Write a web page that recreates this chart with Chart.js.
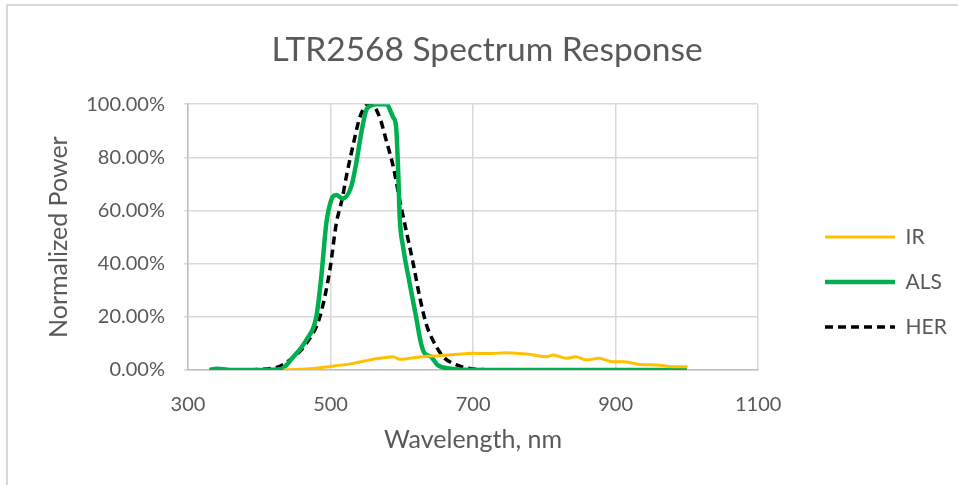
<!DOCTYPE html>
<html>
<head>
<meta charset="utf-8">
<title>LTR2568 Spectrum Response</title>
<script src="https://cdn.jsdelivr.net/npm/chart.js@4.4.1/dist/chart.umd.min.js"></script>
<style>
    html, body { margin: 0; padding: 0; background: #ffffff; }
    .wrap { position: relative; width: 958px; height: 485px; overflow: hidden; }
    .frame-top { position: absolute; left: 6px; top: 4px; right: 0; height: 2px; background: #d9d9d9; }
    .frame-left { position: absolute; left: 6px; top: 4px; bottom: 0; width: 2px; background: #d9d9d9; }
    canvas { position: absolute; left: 0; top: 0; }
</style>
</head>
<body>
<div class="wrap">
    <div class="frame-top"></div>
    <div class="frame-left"></div>
    <canvas id="spectrum" width="958" height="485"></canvas>
</div>
<script>
// wavelength (nm) / normalized power (%)
const irX  = [434, 476, 504, 532, 555, 574, 588, 597, 616, 630, 653, 677, 700, 725, 747, 779, 803, 812, 831, 844, 859, 877, 896, 910, 934, 957, 980, 1001];
const irY  = [0, 0.6, 1.5, 2.5, 3.8, 4.6, 5, 4, 4.6, 5, 5.4, 5.9, 6.3, 6.2, 6.5, 5.9, 5, 5.6, 4.4, 5, 3.8, 4.4, 3.1, 3.1, 2.1, 1.9, 1.25, 1.25];

const alsX = [330, 340, 360, 400, 430, 448, 466, 480, 487, 494, 501, 508, 517, 529, 536, 543, 550, 557, 565, 578, 588, 592, 595, 597, 602, 611, 620, 627, 632, 641, 650, 666, 690, 750, 850, 1000];
const alsY = [0, 0.5, 0, 0, 0.3, 5, 11.3, 20, 35, 55, 64, 65.8, 64.5, 69, 77.7, 89, 97.7, 99.5, 100, 100, 95, 91.5, 74, 57.6, 46, 32.6, 20, 10, 6.3, 5, 1.9, 0.6, 0.1, 0, 0, 0];

const herX = [387, 424, 443, 466, 485, 499, 508, 516, 523, 532, 541, 550, 557, 569, 578, 588, 597, 606, 616, 625, 634, 644, 658, 677, 695, 720, 755];
const herY = [0, 1, 3.8, 10, 20, 37.6, 55, 64, 73.9, 85, 95, 99.6, 100, 95, 86.5, 76.5, 64, 52.6, 40, 27.6, 17.5, 11, 5, 1.9, 0.6, 0.1, 0];

const seriesNames = ['IR', 'ALS', 'HER'];
const xTicks = [300, 500, 700, 900, 1100];
const yTicks = [0, 20, 40, 60, 80, 100];

const pts = (xs, ys) => xs.map((x, i) => ({ x: x, y: ys[i] }));

const textColor = '#595959';
const gridColor = '#d9d9d9';
Chart.defaults.font.family = 'Lato, "Open Sans", sans-serif';
Chart.defaults.color = textColor;

// legend to the right of the plot and title nudged right, like the Excel original
const boxPlacer = {
    id: 'boxPlacer',
    afterLayout(chart) {
        const lg = chart.legend;
        const w = lg.width, h = lg.height;
        lg.left = 801;
        lg.right = lg.left + w;
        lg.top = 202.5;
        lg.bottom = lg.top + h;

        const tb = chart.titleBlock;
        tb.left += 10;
        tb.right += 10;
    }
};

new Chart(document.getElementById('spectrum').getContext('2d'), {
    type: 'scatter',
    data: {
        datasets: [
            {
                label: seriesNames[0],
                data: pts(irX, irY),
                showLine: true,
                borderColor: '#ffc000',
                backgroundColor: '#ffc000',
                borderWidth: 3,
                pointRadius: 0,
                pointStyle: 'line',
                cubicInterpolationMode: 'monotone'
            },
            {
                label: seriesNames[1],
                data: pts(alsX, alsY),
                showLine: true,
                borderColor: '#00b050',
                backgroundColor: '#00b050',
                borderWidth: 4.5,
                pointRadius: 0,
                pointStyle: 'line',
                cubicInterpolationMode: 'monotone'
            },
            {
                label: seriesNames[2],
                data: pts(herX, herY),
                showLine: true,
                borderColor: '#000000',
                backgroundColor: '#000000',
                borderWidth: 3.5,
                borderDash: [8, 5],
                pointRadius: 0,
                pointStyle: 'line',
                cubicInterpolationMode: 'monotone'
            }
        ]
    },
    plugins: [boxPlacer],
    options: {
        responsive: false,
        animation: false,
        devicePixelRatio: 1,
        layout: {
            padding: { left: 40, right: 44, top: 0, bottom: 26 }
        },
        plugins: {
            title: {
                display: true,
                text: 'LTR2568 Spectrum Response',
                color: textColor,
                font: { size: 33.5, weight: 'normal' },
                padding: { top: 30, bottom: 34 }
            },
            legend: {
                position: 'right',
                align: 'start',
                labels: {
                    usePointStyle: true,
                    pointStyleWidth: 70,
                    boxHeight: 21,
                    padding: 24,
                    color: textColor,
                    font: { size: 21 },
                    generateLabels: (chart) => {
                        const items = Chart.defaults.plugins.legend.labels.generateLabels(chart);
                        return items.map((item) => {
                            const ds = chart.data.datasets[item.datasetIndex];
                            item.lineDash = ds.borderDash || [];
                            item.lineWidth = ds.borderWidth;
                            item.strokeStyle = ds.borderColor;
                            return item;
                        });
                    }
                }
            },
            tooltip: { enabled: false }
        },
        scales: {
            x: {
                type: 'linear',
                min: xTicks[0],
                max: xTicks[xTicks.length - 1],
                afterBuildTicks: (axis) => { axis.ticks = xTicks.map(v => ({ value: v })); },
                afterFit: (axis) => { axis.height = 89; },
                grid: { color: gridColor, lineWidth: 1.5, drawTicks: false },
                border: { color: '#bfbfbf', width: 1.5 },
                ticks: { padding: 23, font: { size: 20 }, color: textColor, callback: (v) => String(v) },
                title: {
                    display: true,
                    text: 'Wavelength, nm',
                    color: textColor,
                    font: { size: 25 },
                    padding: { top: 4, bottom: 4 }
                }
            },
            y: {
                min: yTicks[0],
                max: yTicks[yTicks.length - 1],
                afterBuildTicks: (axis) => { axis.ticks = yTicks.map(v => ({ value: v })); },
                afterFit: (axis) => { axis.width = 148; },
                grid: { color: gridColor, lineWidth: 1.5, tickLength: 4 },
                border: { color: '#bfbfbf', width: 1.5 },
                ticks: {
                    padding: 19,
                    font: { size: 20 },
                    color: textColor,
                    callback: (v) => v.toFixed(2) + '%'
                },
                title: {
                    display: true,
                    text: 'Normalized Power',
                    color: textColor,
                    font: { size: 25 },
                    padding: { top: 4, bottom: 4 }
                }
            }
        }
    }
});
</script>
</body>
</html>
